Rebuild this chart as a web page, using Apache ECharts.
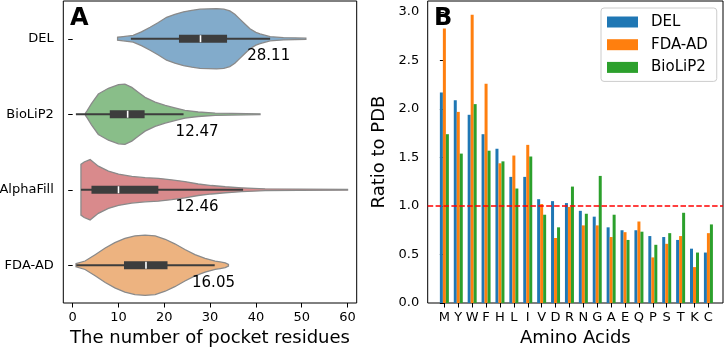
<!DOCTYPE html>
<html>
<head>
<meta charset="utf-8">
<script src="https://cdn.jsdelivr.net/npm/echarts@6/dist/echarts.min.js"></script>
<style>
  html, body { margin: 0; padding: 0; background: #fff; }
  #chart { width: 725px; height: 348px; }
</style>
</head>
<body>
<div id="chart"></div>
<script>
// ---- panel A: violins ----
var violinNames = ['DEL', 'BioLiP2', 'AlphaFill', 'FDA-AD'];
var violinColors = ['#82abcb', '#89be89', '#d98a8c', '#edb380'];
var meanValues = [28.11, 12.47, 12.46, 16.05];
var meanLabels = ['28.11', '12.47', '12.46', '16.05'];

// box stats: whisker low, q1, median, q3, whisker high
var whiskerLow = [12.7, 0.7, 1.8, 0.8];
var q1Values = [23.2, 8.1, 4.1, 11.2];
var medianValues = [27.9, 12.0, 10.0, 16.0];
var q3Values = [33.7, 15.7, 18.7, 20.7];
var whiskerHigh = [43.1, 24.2, 37.2, 31.0];

// outline of each violin: x positions and relative density (max = 1)
var delX = [9.8, 11, 13.2, 15, 16.9, 18.7, 20.5, 22.3, 24.2, 26, 27.8, 29.6, 31.4, 33, 34.3, 35.4, 36.5, 37.6, 38.7, 40, 40.9, 43.1, 46, 50.9];
var delD = [0.05, 0.07, 0.11, 0.23, 0.38, 0.54, 0.71, 0.81, 0.89, 0.94, 0.98, 0.99, 1.0, 0.98, 0.92, 0.81, 0.65, 0.49, 0.33, 0.21, 0.16, 0.07, 0.04, 0.02];
var bioX = [2.8, 3.2, 4.1, 5.6, 7.8, 10.0, 11.4, 12.9, 14.3, 15.8, 18.0, 20.2, 22.3, 24.5, 27.4, 31.1, 34.7, 40.9];
var bioD = [0.04, 0.13, 0.35, 0.67, 0.86, 0.98, 1.0, 0.89, 0.73, 0.56, 0.40, 0.29, 0.21, 0.13, 0.075, 0.04, 0.026, 0.013];
var alphaX = [1.8, 2.5, 3.8, 5.6, 7.8, 10, 12.9, 15.8, 18.7, 21.6, 24.5, 27.4, 30.3, 33.3, 36.9, 42, 49.3, 60];
var alphaD = [0.84, 0.92, 1.0, 0.78, 0.62, 0.52, 0.44, 0.40, 0.38, 0.33, 0.27, 0.19, 0.14, 0.10, 0.065, 0.032, 0.023, 0.013];
var fdaX = [0.72, 2.7, 4.9, 7.1, 9.2, 11.4, 13.6, 15.8, 18.0, 20.2, 22.3, 24.5, 26.7, 28.9, 31.1, 32.2, 33.3, 34.0];
var fdaD = [0.05, 0.14, 0.35, 0.57, 0.75, 0.89, 0.97, 1.0, 0.97, 0.86, 0.71, 0.52, 0.35, 0.23, 0.14, 0.11, 0.08, 0.03];
var violinX = [delX, bioX, alphaX, fdaX];
var violinD = [delD, bioD, alphaD, fdaD];
var xTicksA = [0, 10, 20, 30, 40, 50, 60];

// ---- panel B: ratio bars ----
var aminoAcids = ['M', 'Y', 'W', 'F', 'H', 'L', 'I', 'V', 'D', 'R', 'N', 'G', 'A', 'E', 'Q', 'P', 'S', 'T', 'K', 'C'];
var delRatio = [2.17, 2.09, 1.94, 1.74, 1.59, 1.30, 1.30, 1.07, 1.05, 1.03, 0.95, 0.89, 0.78, 0.75, 0.75, 0.69, 0.68, 0.65, 0.56, 0.52];
var fdaRatio = [2.83, 1.97, 2.97, 2.26, 1.44, 1.52, 1.63, 1.02, 0.67, 0.99, 0.80, 0.80, 0.68, 0.73, 0.84, 0.47, 0.61, 0.69, 0.37, 0.72];
var bioRatio = [1.74, 1.54, 2.05, 1.57, 1.46, 1.18, 1.51, 0.91, 0.78, 1.20, 0.92, 1.31, 0.91, 0.65, 0.735, 0.60, 0.72, 0.93, 0.52, 0.81];
var yTicksB = [0, 0.5, 1.0, 1.5, 2.0, 2.5, 3.0];
var barColors = ['#1f77b4', '#ff7f0e', '#2ca02c'];

var font = 'DejaVu Sans';

function renderViolin(params, api) {
  var i = params.dataIndex;
  var band = api.size([0, 1])[1];
  var xs = violinX[i], ds = violinD[i];
  var top = [], bottom = [];
  for (var k = 0; k < xs.length; k++) {
    var p = api.coord([xs[k], i]);
    var h = ds[k] * 0.4 * band;
    top.push([p[0], p[1] - h]);
    bottom.unshift([p[0], p[1] + h]);
  }
  var c = api.coord([0, i])[1];
  var px = function (v) { return api.coord([v, i])[0]; };
  var boxH = 0.106 * band;
  return {
    type: 'group',
    children: [
      { type: 'polygon', shape: { points: top.concat(bottom) },
        style: { fill: violinColors[i], stroke: '#8a8a8a', lineWidth: 1.3 } },
      { type: 'line', shape: { x1: px(whiskerLow[i]), y1: c, x2: px(whiskerHigh[i]), y2: c },
        style: { stroke: '#3d3d3d', lineWidth: 2 } },
      { type: 'rect', shape: { x: px(q1Values[i]), y: c - boxH / 2, width: px(q3Values[i]) - px(q1Values[i]), height: boxH },
        style: { fill: '#3d3d3d' } },
      { type: 'line', shape: { x1: px(medianValues[i]), y1: c - boxH / 2 + 0.5, x2: px(medianValues[i]), y2: c + boxH / 2 - 0.5 },
        style: { stroke: '#ffffff', lineWidth: 1.6 } },
      { type: 'text', x: px(meanValues[i] + 10), y: c + 0.235 * band,
        style: { text: meanLabels[i], fill: '#000', font: '15px "DejaVu Sans"', align: 'left', verticalAlign: 'middle' } }
    ]
  };
}

var chart = echarts.init(document.getElementById('chart'), null, { renderer: 'canvas' });

var option = {
  animation: false,
  backgroundColor: '#ffffff',
  textStyle: { fontFamily: font },
  grid: [
    { left: 63.3, top: 1, width: 293.4, height: 302, outerBoundsMode: 'none', containLabel: false,
      show: true, borderColor: '#000', borderWidth: 1, backgroundColor: 'transparent' },
    { left: 427.7, top: 1, width: 295.3, height: 302, outerBoundsMode: 'none', containLabel: false,
      show: true, borderColor: '#000', borderWidth: 1, backgroundColor: 'transparent' }
  ],
  xAxis: [
    {
      gridIndex: 0, type: 'value', min: -2.05, max: 62,
      name: 'The number of pocket residues', nameLocation: 'middle', nameGap: 24,
      nameTextStyle: { fontSize: 18, color: '#000', fontFamily: font, verticalAlign: 'top' },
      axisLine: { show: false },
      axisTick: { show: true, length: 4.5, customValues: xTicksA, lineStyle: { color: '#000' } },
      axisLabel: { customValues: xTicksA, fontSize: 13, color: '#000', margin: 8 },
      splitLine: { show: false }
    },
    {
      gridIndex: 1, type: 'value', min: -1.2, max: 20.05,
      name: 'Amino Acids', nameLocation: 'middle', nameGap: 24,
      nameTextStyle: { fontSize: 18, color: '#000', fontFamily: font, verticalAlign: 'top' },
      axisLine: { show: false },
      axisTick: { show: true, length: 4.5, customValues: aminoAcids.map(function (a, i) { return i; }), lineStyle: { color: '#000' } },
      axisLabel: { customValues: aminoAcids.map(function (a, i) { return i; }), fontSize: 13, color: '#000', margin: 8,
        formatter: function (v) { return aminoAcids[Math.round(v)]; } },
      splitLine: { show: false }
    }
  ],
  yAxis: [
    {
      gridIndex: 0, type: 'category', data: violinNames, inverse: true,
      axisLine: { show: false },
      axisTick: { show: true, alignWithLabel: true, length: 4.5, lineStyle: { color: '#000' } },
      axisLabel: { fontSize: 13, color: '#000', margin: 9.5 },
      splitLine: { show: false }
    },
    {
      gridIndex: 1, type: 'value', min: 0, max: 3.113,
      name: 'Ratio to PDB', nameLocation: 'middle', nameGap: 39,
      nameTextStyle: { fontSize: 18, color: '#000', fontFamily: font },
      axisLine: { show: false },
      axisTick: { show: true, length: 4.5, customValues: yTicksB, lineStyle: { color: '#000' } },
      axisLabel: { customValues: yTicksB, fontSize: 13, color: '#000', margin: 8.5,
        formatter: function (v) { return v.toFixed(1); } },
      splitLine: { show: false }
    }
  ],
  legend: {
    data: ['DEL', 'FDA-AD', 'BioLiP2'],
    orient: 'vertical', left: 601, top: 8,
    icon: 'rect', itemWidth: 31, itemHeight: 11, itemGap: 7.7,
    padding: [6.5, 9, 6.5, 6],
    backgroundColor: 'rgba(255,255,255,0.8)', borderColor: '#cccccc', borderWidth: 1, borderRadius: 3,
    selectedMode: false,
    textStyle: { fontSize: 15, color: '#000', fontFamily: font, padding: [0, 0, 0, 8] }
  },
  series: [
    {
      type: 'custom', name: 'violins', xAxisIndex: 0, yAxisIndex: 0,
      renderItem: renderViolin,
      encode: { x: 0, y: 1 },
      data: violinNames.map(function (n, i) { return [medianValues[i], i]; }),
      silent: true
    },
    {
      type: 'bar', name: 'DEL', xAxisIndex: 1, yAxisIndex: 1,
      barWidth: 3, barGap: '0%',
      itemStyle: { color: barColors[0] },
      data: delRatio.map(function (v, i) { return [i, v]; }),
      markLine: {
        silent: true, symbol: 'none', label: { show: false },
        lineStyle: { color: '#ff0000', type: [5.5, 2.4], width: 1.5 },
        data: [{ yAxis: 1.0 }]
      }
    },
    {
      type: 'bar', name: 'FDA-AD', xAxisIndex: 1, yAxisIndex: 1,
      barWidth: 3, barGap: '0%',
      itemStyle: { color: barColors[1] },
      data: fdaRatio.map(function (v, i) { return [i, v]; })
    },
    {
      type: 'bar', name: 'BioLiP2', xAxisIndex: 1, yAxisIndex: 1,
      barWidth: 3, barGap: '0%',
      itemStyle: { color: barColors[2] },
      data: bioRatio.map(function (v, i) { return [i, v]; })
    }
  ],
  graphic: [
    { type: 'text', left: 70, top: 7, style: { text: 'A', font: 'bold 24px "DejaVu Sans"', fill: '#000' } },
    { type: 'text', left: 434, top: 7, style: { text: 'B', font: 'bold 24px "DejaVu Sans"', fill: '#000' } }
  ]
};

chart.setOption(option);
</script>
</body>
</html>
